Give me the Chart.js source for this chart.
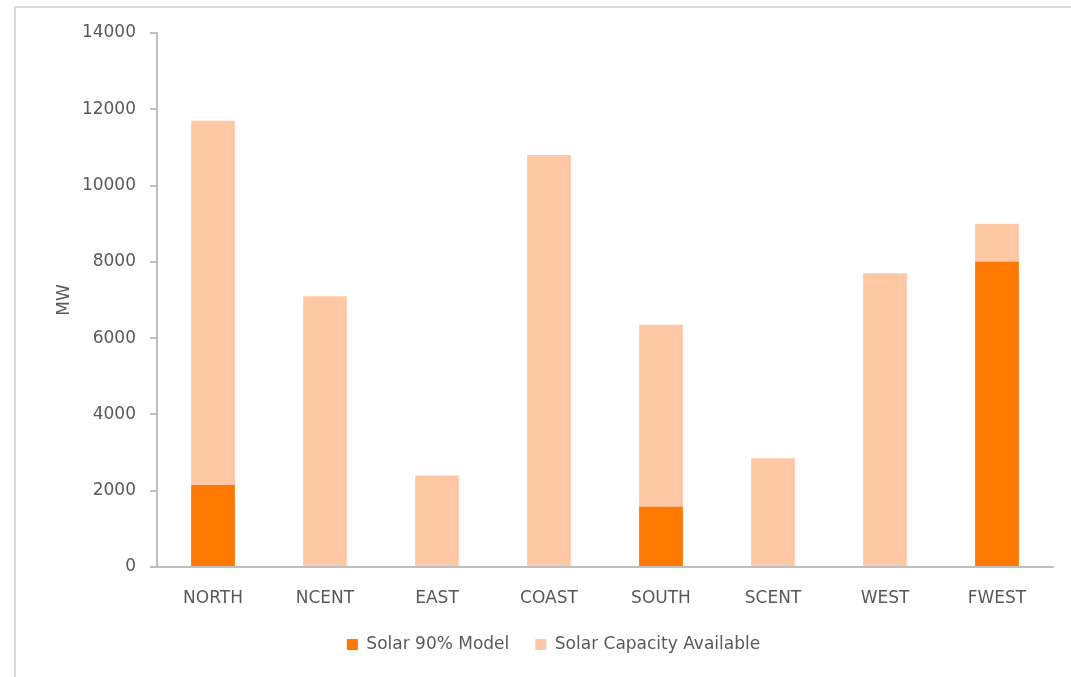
<!DOCTYPE html>
<html>
<head>
<meta charset="utf-8">
<title>Solar capacity by region</title>
<script src="https://cdn.jsdelivr.net/npm/chart.js@4/dist/chart.umd.min.js"></script>
<style>
  html, body { margin: 0; padding: 0; background: #ffffff; overflow: hidden; }
  #wrap { position: relative; width: 1071px; height: 677px; overflow: hidden; }
  #frame { position: absolute; left: 14px; top: 6px; width: 1200px; height: 800px;
           border-left: 2px solid #d9d9d9; border-top: 2px solid #d9d9d9; }
  canvas { position: absolute; left: 0; top: 0; }
</style>
</head>
<body>
<div id="wrap">
  <div id="frame"></div>
  <canvas id="chart" width="1071" height="677"></canvas>
</div>
<script>
// Regions and values in MW
const regions = ['NORTH', 'NCENT', 'EAST', 'COAST', 'SOUTH', 'SCENT', 'WEST', 'FWEST'];
const solarModel = [2150, 0, 0, 0, 1580, 0, 0, 8000];
const solarCapacity = [11700, 7100, 2400, 10800, 6350, 2850, 7700, 9000];
const yTicks = [0, 2000, 4000, 6000, 8000, 10000, 12000, 14000];

const textColor = '#595959';
const axisColor = '#bfbfbf';
const fontFamily = '"DejaVu Sans", "Liberation Sans", sans-serif';

new Chart(document.getElementById('chart'), {
  type: 'bar',
  data: {
    labels: regions,
    datasets: [
      {
        label: 'Solar 90% Model',
        data: solarModel,
        backgroundColor: '#ff7800',
        borderWidth: 0
      },
      {
        label: 'Solar Capacity Available',
        data: solarCapacity,
        backgroundColor: '#ffc8a5',
        borderWidth: 0
      }
    ]
  },
  options: {
    responsive: false,
    animation: false,
    devicePixelRatio: 1,
    categoryPercentage: 1,
    barPercentage: 0.39,
    layout: { padding: { top: 33, right: 18, bottom: 14, left: 54 } },
    plugins: {
      tooltip: { enabled: false },
      legend: {
        position: 'bottom',
        labels: {
          color: textColor,
          font: { family: fontFamily, size: 17 },
          boxWidth: 11,
          boxHeight: 11,
          padding: 26
        }
      }
    },
    scales: {
      x: {
        stacked: true,
        grid: { display: false, drawTicks: false },
        border: { display: true, color: axisColor, width: 2 },
        ticks: { color: textColor, font: { family: fontFamily, size: 17 }, padding: 21 },
        afterFit: (scale) => { scale.height = 43; }
      },
      y: {
        stacked: false,
        min: 0,
        max: 14000,
        afterBuildTicks: (scale) => { scale.ticks = yTicks.map(v => ({ value: v })); },
        grid: { drawOnChartArea: false, drawTicks: true, tickLength: 7, color: axisColor, lineWidth: 2 },
        border: { display: true, color: axisColor, width: 2 },
        ticks: {
          color: textColor,
          font: { family: fontFamily, size: 17 },
          padding: 14,
          callback: (v) => String(v)
        },
        title: {
          display: true,
          text: 'MW',
          color: textColor,
          font: { family: fontFamily, size: 17 },
          padding: { top: 0, bottom: 0 }
        },
        afterFit: (scale) => { scale.width = 103; }
      }
    }
  }
});
</script>
</body>
</html>
